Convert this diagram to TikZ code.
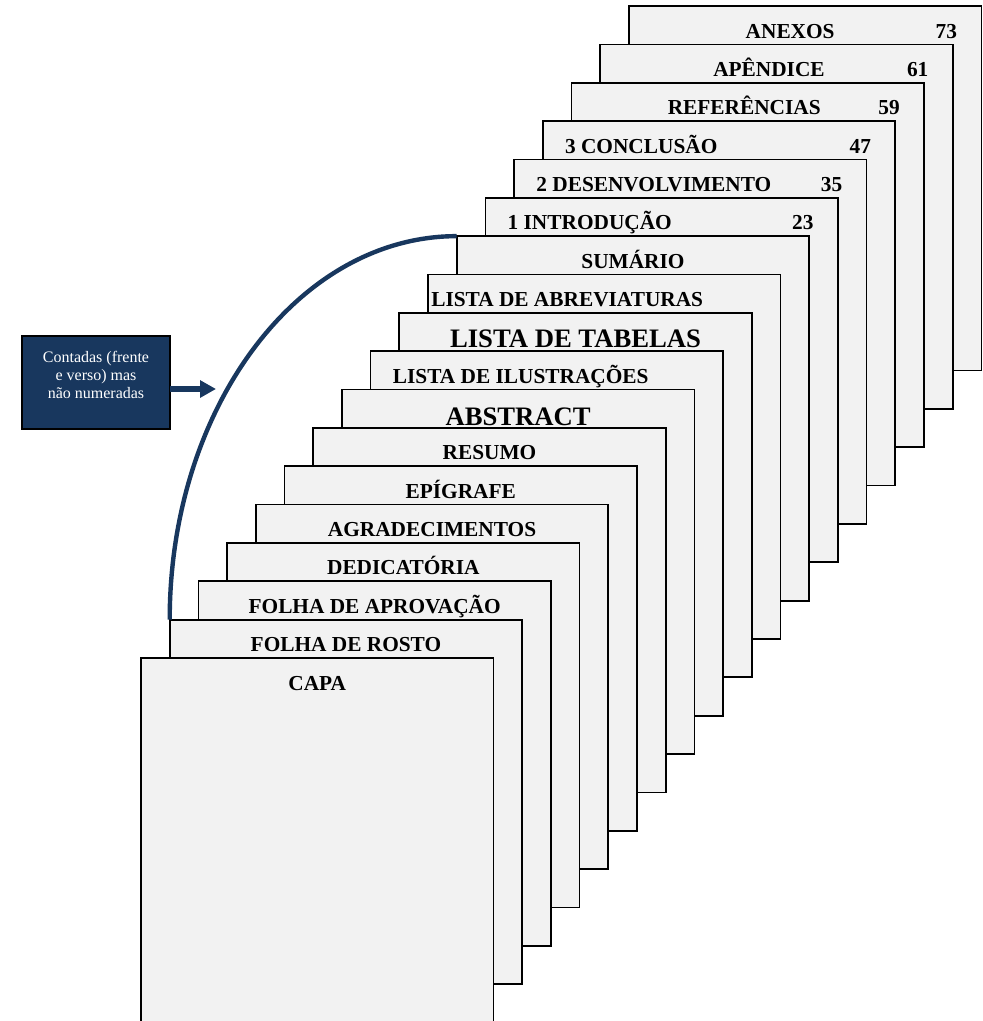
\documentclass[tikz,border=0pt]{standalone}
\usepackage{fontspec}
\setmainfont{Liberation Serif}
\usetikzlibrary{arrows.meta,calc}
\definecolor{pagefill}{RGB}{242,242,242}
\definecolor{navy}{RGB}{24,55,94}
\begin{document}
\begin{tikzpicture}[x=0.75pt,y=-0.75pt,
  page/.style={draw=black, line width=1.3pt, fill=pagefill, minimum width=264.375pt, minimum height=273.375pt, inner sep=0pt, outer sep=0pt},
  lbl/.style={font=\bfseries\fontsize{16}{19}\selectfont, inner sep=0pt, anchor=base},
  biglbl/.style={font=\bfseries\fontsize{20}{24}\selectfont, inner sep=0pt, anchor=base},
  infobox/.style={draw=black, line width=1.1pt, fill=navy, minimum width=111pt, minimum height=69.75pt, inner sep=0pt, outer sep=0pt},
  infotext/.style={text=white, font=\fontsize{12}{13.5}\selectfont, align=center, inner sep=0pt},
  navyline/.style={draw=navy, line width=3.3pt},
  navyarrow/.style={draw=navy, line width=3.8pt, -{Triangle[length=12pt,width=12.5pt]}}
]
\useasboundingbox (0,0) rectangle (982,1021);
\foreach \i in {18,17,...,1}{
  \node[page] (p\i) at ({317.25+28.7*(\i-1)},{840.25-38.35*(\i-1)}) {};
}
\node[lbl] (t1) at ($(p1.north)+(0,32)$) {CAPA};
\node[lbl] (t2) at ($(p2.north)+(0,32)$) {FOLHA DE ROSTO};
\node[lbl] (t3) at ($(p3.north)+(0,32)$) {FOLHA DE APROVAÇÃO};
\node[lbl] (t4) at ($(p4.north)+(0,32)$) {DEDICATÓRIA};
\node[lbl] (t5) at ($(p5.north)+(0,32)$) {AGRADECIMENTOS};
\node[lbl] (t6) at ($(p6.north)+(0,32)$) {EPÍGRAFE};
\node[lbl] (t7) at ($(p7.north)+(0,32)$) {RESUMO};
\node[biglbl] (t8) at ($(p8.north)+(0,36)$) {ABSTRACT};
\node[lbl,anchor=base west] (t9) at ($(p9.north west)+(22,32)$) {LISTA DE ILUSTRAÇÕES};
\node[biglbl] (t10) at ($(p10.north)+(0,35)$) {LISTA DE TABELAS};
\node[lbl,anchor=base west] (t11) at ($(p11.north west)+(3,32)$) {LISTA DE ABREVIATURAS};
\node[lbl] (t12) at ($(p12.north)+(0,32)$) {SUMÁRIO};
\node[lbl,anchor=base west] (t13) at ($(p13.north west)+(22,32)$) {1 INTRODUÇÃO};
\node[lbl] (n13) at ($(p13.north east)+(-35,32)$) {23};
\node[lbl,anchor=base west] (t14) at ($(p14.north west)+(22,32)$) {2 DESENVOLVIMENTO};
\node[lbl] (n14) at ($(p14.north east)+(-35,32)$) {35};
\node[lbl,anchor=base west] (t15) at ($(p15.north west)+(22,32)$) {3 CONCLUSÃO};
\node[lbl] (n15) at ($(p15.north east)+(-35,32)$) {47};
\node[lbl] (t16) at ($(p16.north)+(-3.5,32)$) {REFERÊNCIAS};
\node[lbl] (n16) at ($(p16.north east)+(-35,32)$) {59};
\node[lbl] (t17) at ($(p17.north)+(-7.5,32)$) {APÊNDICE};
\node[lbl] (n17) at ($(p17.north east)+(-35,32)$) {61};
\node[lbl] (t18) at ($(p18.north)+(-15,32)$) {ANEXOS};
\node[lbl] (n18) at ($(p18.north east)+(-35,32)$) {73};
\node[infobox] (box) at (96,382.5) {};
\node[infotext] (boxtext) at (96,375) {Contadas (frente\\e verso) mas\\não numeradas};
\coordinate (arrowtip) at (216,389);
\draw[navyarrow] (box.east |- arrowtip) -- (arrowtip);
\draw[navyline] (p2.north west) .. controls +(0,-211.8) and +(-158.5,0) .. (p12.north west);
\end{tikzpicture}
\end{document}
